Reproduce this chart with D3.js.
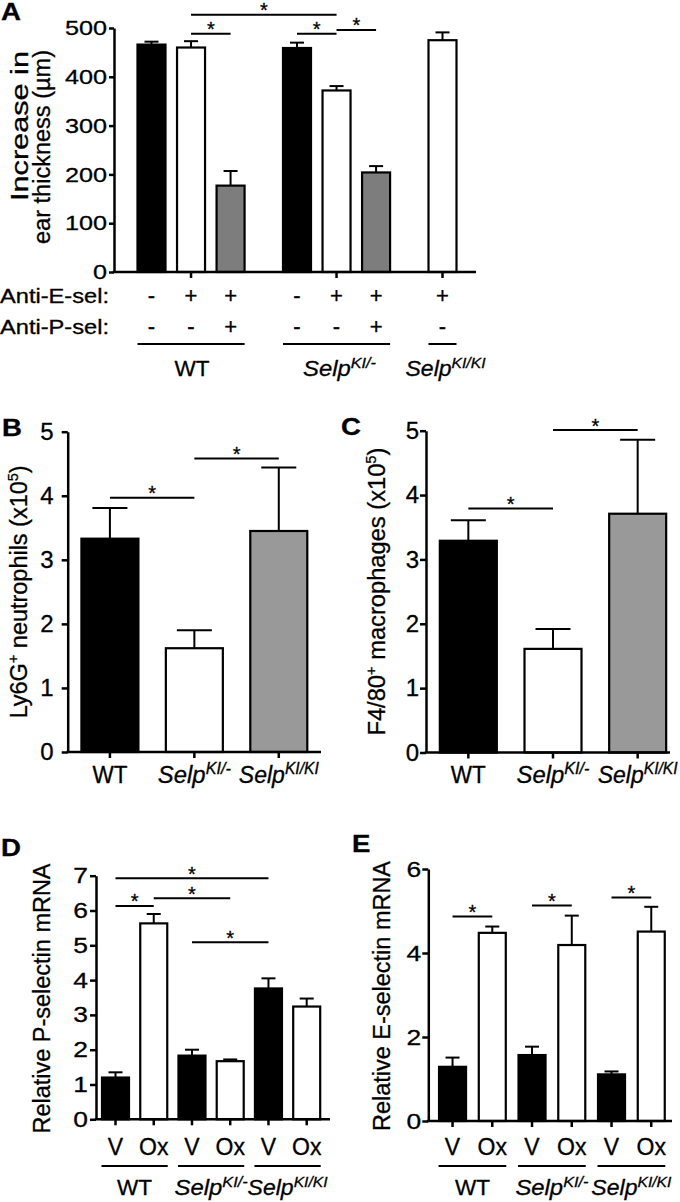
<!DOCTYPE html>
<html><head><meta charset="utf-8">
<script src="https://cdn.jsdelivr.net/npm/d3@7"></script>
<style>
body{margin:0;background:#fff}
svg{display:block}
text{font-family:"Liberation Sans",Arial,Helvetica,sans-serif;fill:#000;stroke:#000;stroke-width:0.3}
</style>
</head><body>
<svg id="c" width="680" height="1202"></svg>
<script>
// ---------------- DATA ----------------
// Panel A
const aGenotypes = ["WT", "Selp^KI/-", "Selp^KI/KI"];
const aGroupOf = [0, 0, 0, 1, 1, 1, 2];
const aAntiE = ["-", "+", "+", "-", "+", "+", "+"];
const aAntiP = ["-", "-", "+", "-", "-", "+", "-"];
const aEarThickness = [466, 460, 177, 459, 372, 204, 475];
const aEarThicknessSEM = [6, 13, 30, 11, 9, 13, 16];
const aYTicks = [0, 100, 200, 300, 400, 500];
const aSig = [[1, 2, 488], [1, 4, 527], [3, 4, 488], [4, 5, 496]];

// Panel B
const bCategories = ["WT", "Selp^KI/-", "Selp^KI/KI"];
const bNeutrophils = [3.33, 1.62, 3.45];
const bNeutrophilsSEM = [0.48, 0.28, 0.99];
const bSig = [[0, 1, 3.97], [1, 2, 4.58]];

// Panel C
const cCategories = ["WT", "Selp^KI/-", "Selp^KI/KI"];
const cMacrophages = [3.29, 1.61, 3.71];
const cMacrophagesSEM = [0.32, 0.31, 1.15];
const cSig = [[0, 1, 3.79], [1, 2, 5.01]];
const bcYTicks = [0, 1, 2, 3, 4, 5];

// Panel D
const dTreatments = ["V", "Ox", "V", "Ox", "V", "Ox"];
const dGenotypes = ["WT", "Selp^KI/-", "Selp^KI/KI"];
const dPselectin = [1.20, 5.63, 1.83, 1.67, 3.76, 3.24];
const dPselectinSEM = [0.15, 0.27, 0.17, 0.05, 0.29, 0.23];
const dSig = [[0, 4, 6.93], [1, 3, 6.35], [0, 1, 6.13], [2, 4, 5.09]];
const dYTicks = [0, 1, 2, 3, 4, 5, 6, 7];

// Panel E
const eTreatments = ["V", "Ox", "V", "Ox", "V", "Ox"];
const eGenotypes = ["WT", "Selp^KI/-", "Selp^KI/KI"];
const eEselectin = [1.29, 4.48, 1.57, 4.19, 1.11, 4.51];
const eEselectinSEM = [0.22, 0.15, 0.20, 0.70, 0.07, 0.59];
const eSig = [[0, 1, 4.87], [2, 3, 5.13], [4, 5, 5.32]];
const eYTicks = [0, 2, 4, 6];

// ---------------- HELPERS ----------------
const svg = d3.select("#c");
const AX = 2.5, LW = 2.2;
const labelWidth = {"WT": 35, "Selp^KI/-": 73, "Selp^KI/KI": 80};

function fitLen(node, len) {
  node.setAttribute("textLength", len);
  node.setAttribute("lengthAdjust", "spacingAndGlyphs");
}
function stretchBy(sel, k) {
  sel.each(function () { fitLen(this, this.getComputedTextLength() * k); });
}
function richLabel(g, label, fs, x, y) {
  const parts = label.split("^");
  const t = g.append("text").attr("x", x).attr("y", y).attr("font-size", fs).attr("text-anchor", "middle");
  if (parts.length > 1) {
    t.append("tspan").attr("font-style", "italic").text(parts[0]);
    t.append("tspan").attr("font-style", "italic").attr("font-size", fs * 0.68).attr("dy", -fs * 0.38).text(parts[1]);
  } else {
    t.text(parts[0]);
  }
  if (labelWidth[label]) fitLen(t.node(), labelWidth[label]);
  return t;
}
function yAxis(g, x0, y, ticks, fs, k, size, pad) {
  const ax = g.append("g").attr("transform", `translate(${x0},0)`)
    .call(d3.axisLeft(y).tickValues(ticks).tickSize(size).tickSizeOuter(0).tickPadding(pad).tickFormat(d3.format("d")));
  ax.attr("font-family", null).attr("font-size", null);
  ax.select(".domain").attr("stroke", "#000").attr("stroke-width", AX);
  ax.selectAll(".tick line").attr("stroke", "#000").attr("stroke-width", AX);
  const tx = ax.selectAll(".tick text").attr("font-size", fs).attr("fill", "#000");
  if (k !== 1) stretchBy(tx, k);
  return ax;
}
function xBase(g, x0, x1, y0, tickXs) {
  g.append("line").attr("x1", x0 - AX / 2).attr("x2", x1).attr("y1", y0).attr("y2", y0)
    .attr("stroke", "#000").attr("stroke-width", AX);
  g.selectAll(null).data(tickXs).join("line")
    .attr("x1", d => d).attr("x2", d => d).attr("y1", y0).attr("y2", y0 + 6)
    .attr("stroke", "#000").attr("stroke-width", AX);
}
function drawBars(g, xs, y, means, sems, fills, bw, cap) {
  g.selectAll(null).data(means).join("rect")
    .attr("x", (d, i) => xs[i] - bw / 2).attr("y", d => y(d))
    .attr("width", bw).attr("height", d => y(0) - y(d))
    .attr("fill", (d, i) => fills[i]).attr("stroke", "#000").attr("stroke-width", LW);
  g.selectAll(null).data(means).join("line")
    .attr("x1", (d, i) => xs[i]).attr("x2", (d, i) => xs[i])
    .attr("y1", d => y(d)).attr("y2", (d, i) => y(d + sems[i]))
    .attr("stroke", "#000").attr("stroke-width", 2);
  g.selectAll(null).data(means).join("line")
    .attr("x1", (d, i) => xs[i] - cap / 2).attr("x2", (d, i) => xs[i] + cap / 2)
    .attr("y1", (d, i) => y(d + sems[i])).attr("y2", (d, i) => y(d + sems[i]))
    .attr("stroke", "#000").attr("stroke-width", 2);
}
function drawSig(g, xs, y, sig) {
  sig.forEach(([a, b, v]) => {
    g.append("line").attr("x1", xs[a]).attr("x2", xs[b]).attr("y1", y(v)).attr("y2", y(v))
      .attr("stroke", "#000").attr("stroke-width", 2);
    g.append("text").attr("x", (xs[a] + xs[b]) / 2).attr("y", y(v) + 2.5)
      .attr("text-anchor", "middle").attr("font-size", 20).text("*");
  });
}
function panelLetter(txt, x, y) {
  const t = svg.append("text").attr("x", x).attr("y", y).attr("font-size", 23).attr("font-weight", "bold").text(txt);
  stretchBy(t, 1.2);
}
function vTitle(g, parts, x, yc, fs, len) {
  const t = g.append("text").attr("transform", `translate(${x},${yc}) rotate(-90)`)
    .attr("text-anchor", "middle").attr("font-size", fs);
  parts.forEach(p => {
    if (p.sup) {
      t.append("tspan").attr("font-size", fs * 0.62).attr("dy", -fs * 0.38).text(p.t);
    } else {
      t.append("tspan").attr("dy", p.back ? fs * 0.38 : 0).text(p.t);
    }
  });
  fitLen(t.node(), len);
  return t;
}

// ---------------- PANEL A ----------------
{
  const g = svg.append("g");
  const y = d3.scaleLinear().domain([0, 500]).range([272, 28]);
  const groupGap = 0.68;
  const slots = aGroupOf.map((gr, i) => i + gr * groupGap);
  const x = d3.scaleLinear().domain([0, d3.max(slots)]).range([151.5, 442.5]);
  const xs = slots.map(s => x(s));
  const fills = aAntiE.map((e, i) => aAntiP[i] === "+" ? "#7d7d7d" : (e === "+" ? "#fff" : "#000"));
  const groupCenters = aGenotypes.map((_, gi) => d3.mean(xs.filter((_, i) => aGroupOf[i] === gi)));

  drawBars(g, xs, y, aEarThickness, aEarThicknessSEM, fills, 28, 14);
  xBase(g, 114, 476, y(0), groupCenters);
  yAxis(g, 114, y, aYTicks, 21, 1.2, 5, 2);
  drawSig(g, xs, y, aSig);

  const t1 = g.append("text").attr("transform", "translate(28,126) rotate(-90)")
    .attr("text-anchor", "middle").attr("font-size", 23).text("Increase in");
  fitLen(t1.node(), 150);
  const t2 = g.append("text").attr("transform", "translate(50,147) rotate(-90)")
    .attr("text-anchor", "middle").attr("font-size", 23).text("ear thickness (µm)");
  fitLen(t2.node(), 194);

  const r1 = g.append("text").attr("x", 0).attr("y", 303).attr("font-size", 20).text("Anti-E-sel:");
  fitLen(r1.node(), 109);
  const r2 = g.append("text").attr("x", 0).attr("y", 334).attr("font-size", 20).text("Anti-P-sel:");
  fitLen(r2.node(), 109);
  g.selectAll(null).data(aAntiE).join("text")
    .attr("x", (d, i) => xs[i]).attr("y", 303).attr("text-anchor", "middle").attr("font-size", 22).text(d => d);
  g.selectAll(null).data(aAntiP).join("text")
    .attr("x", (d, i) => xs[i]).attr("y", 334).attr("text-anchor", "middle").attr("font-size", 22).text(d => d);

  aGenotypes.forEach((lab, gi) => {
    const idx = d3.range(xs.length).filter(i => aGroupOf[i] === gi);
    const x0 = xs[idx[0]] - 14, x1 = xs[idx[idx.length - 1]] + 14;
    g.append("line").attr("x1", x0).attr("x2", x1).attr("y1", 344).attr("y2", 344)
      .attr("stroke", "#000").attr("stroke-width", 2);
    richLabel(g, lab, 22, groupCenters[gi] + (gi > 0 ? 3 : 1), 376);
  });
  panelLetter("A", 1, 20);
}

// ---------------- PANEL B / C ----------------
function bcPanel(cats, means, sems, sig, axisX, xEnd, axisEnd, y0, y5, titleParts, titleX, titleLen, pad) {
  const g = svg.append("g");
  const y = d3.scaleLinear().domain([0, 5]).range([y0, y5]);
  const x = d3.scalePoint().domain(d3.range(cats.length)).range([axisX, xEnd]).padding(0.5);
  const xs = d3.range(cats.length).map(i => x(i));
  const fills = ["#000", "#fff", "#999"];
  drawBars(g, xs, y, means, sems, fills, 57, 35);
  xBase(g, axisX, axisEnd, y(0), xs);
  yAxis(g, axisX, y, bcYTicks, 24, 1, 6, pad);
  drawSig(g, xs, y, sig);
  cats.forEach((c, i) => richLabel(g, c, 23, xs[i], 783));
  vTitle(g, titleParts, titleX, (y0 + y5) / 2, 23, titleLen);
}
bcPanel(bCategories, bNeutrophils, bNeutrophilsSEM, bSig, 67.7, 321, 321, 752, 431.7,
  [{t: "Ly6G"}, {t: "+", sup: true}, {t: " neutrophils (x10", back: true}, {t: "5", sup: true}, {t: ")", back: true}],
  27, 253, 8);
panelLetter("B", 2, 436);
bcPanel(cCategories, cMacrophages, cMacrophagesSEM, cSig, 426, 680, 670, 752.5, 430.7,
  [{t: "F4/80"}, {t: "+", sup: true}, {t: " macrophages (x10", back: true}, {t: "5", sup: true}, {t: ")", back: true}],
  385, 288, 1);
panelLetter("C", 341, 435);

// ---------------- PANEL D / E ----------------
function dePanel(treat, genos, means, sems, sig, yMax, ticks, axisX, xEnd, padP, axisEnd, y0, yTop, title, titleX, letter, letterX, letterY, tickPad) {
  const g = svg.append("g");
  const y = d3.scaleLinear().domain([0, yMax]).range([y0, yTop]);
  const x = d3.scalePoint().domain(d3.range(treat.length)).range([axisX, xEnd]).padding(padP);
  const xs = d3.range(treat.length).map(i => x(i));
  const fills = treat.map(t => t === "V" ? "#000" : "#fff");
  drawBars(g, xs, y, means, sems, fills, 27, 14);
  xBase(g, axisX, axisEnd, y(0), xs);
  yAxis(g, axisX, y, ticks, 22, 1.2, 6, tickPad);
  drawSig(g, xs, y, sig);
  treat.forEach((t, i) => g.append("text").attr("x", xs[i]).attr("y", 1155)
    .attr("text-anchor", "middle").attr("font-size", 23).text(t));
  genos.forEach((lab, gi) => {
    const a = xs[gi * 2], b = xs[gi * 2 + 1];
    g.append("line").attr("x1", a - 14).attr("x2", b + 14).attr("y1", 1166).attr("y2", 1166)
      .attr("stroke", "#000").attr("stroke-width", 2);
    richLabel(g, lab, 22, (a + b) / 2, 1195);
  });
  const t = g.append("text").attr("transform", `translate(${titleX},${(y0 + yTop) / 2 + 1}) rotate(-90)`)
    .attr("text-anchor", "middle").attr("font-size", 23).text(title);
  fitLen(t.node(), 270);
  panelLetter(letter, letterX, letterY);
}
dePanel(dTreatments, dGenotypes, dPselectin, dPselectinSEM, dSig, 7, dYTicks, 96, 326.2, 0.51, 330,
  1119.3, 875.7, "Relative P-selectin mRNA", 50, "D", 1, 856, 2);
dePanel(eTreatments, eGenotypes, eEselectin, eEselectinSEM, eSig, 6, eYTicks, 428.3, 675.5, 0.61, 672,
  1121, 869, "Relative E-selectin mRNA", 390, "E", 352, 852, 1);
</script>
</body></html>
